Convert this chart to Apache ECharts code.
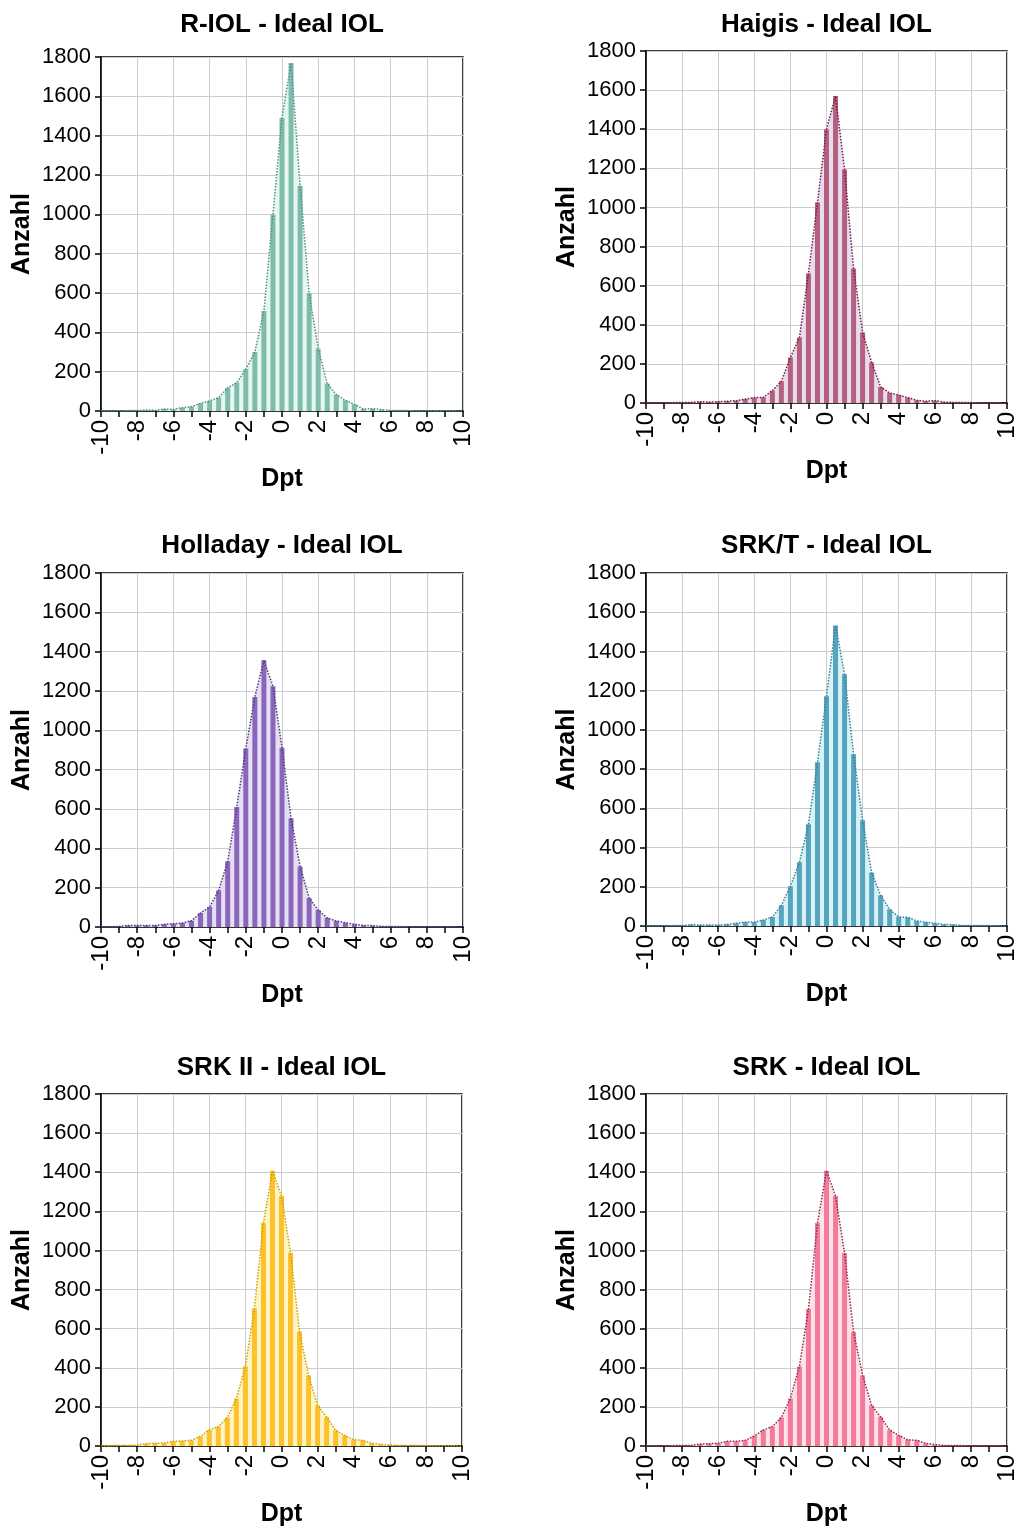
<!DOCTYPE html>
<html>
<head>
<meta charset="utf-8">
<script src="https://cdn.jsdelivr.net/npm/echarts@6/dist/echarts.min.js"></script>
<style>
  html, body { margin: 0; padding: 0; background: #fff; }
  #chart { width: 1019px; height: 1528px; }
</style>
</head>
<body>
<div id="chart"></div>
<script>
// Dpt-Klassen (Balkenmitten)
const dpt = [-10, -9.5, -9, -8.5, -8, -7.5, -7, -6.5, -6, -5.5, -5, -4.5, -4, -3.5, -3, -2.5, -2, -1.5, -1, -0.5,
  0, 0.5, 1, 1.5, 2, 2.5, 3, 3.5, 4, 4.5, 5, 5.5, 6, 6.5, 7, 7.5, 8, 8.5, 9, 9.5, 10];

// Anzahl je Klasse
const rIol = [1, 1, 1, 2, 2, 5, 3, 10, 8, 17, 22, 39, 51, 68, 118, 144, 213, 300, 508, 999,
  1490, 1769, 1145, 599, 317, 139, 83, 54, 34, 10, 12, 7, 3, 2, 2, 1, 1, 1, 1, 1, 0];
const haigis = [1, 1, 1, 2, 2, 3, 7, 5, 7, 9, 12, 20, 27, 29, 63, 111, 233, 335, 662, 1025,
  1400, 1570, 1194, 688, 361, 208, 82, 51, 41, 27, 14, 9, 12, 5, 3, 2, 2, 1, 1, 1, 0];
const holladay = [1, 1, 3, 8, 8, 8, 8, 14, 17, 20, 32, 71, 102, 186, 334, 610, 908, 1170, 1356, 1224,
  912, 553, 308, 147, 86, 46, 31, 22, 14, 8, 7, 3, 2, 2, 1, 1, 1, 1, 1, 1, 0];
const srkT = [1, 1, 1, 2, 2, 7, 5, 5, 5, 8, 14, 20, 20, 31, 46, 105, 202, 325, 519, 835,
  1171, 1532, 1284, 876, 539, 272, 156, 85, 46, 44, 26, 19, 14, 8, 7, 3, 2, 2, 2, 1, 0];
const srkII = [1, 2, 2, 3, 5, 12, 14, 15, 24, 26, 29, 49, 82, 99, 145, 242, 407, 703, 1140, 1407,
  1279, 988, 585, 361, 208, 148, 80, 54, 32, 29, 14, 8, 5, 3, 2, 2, 2, 1, 1, 1, 0];
const srk = [1, 1, 1, 2, 2, 3, 10, 12, 14, 24, 24, 29, 51, 82, 99, 146, 243, 407, 701, 1140,
  1407, 1279, 987, 583, 361, 208, 148, 82, 54, 32, 29, 14, 7, 3, 2, 2, 1, 1, 1, 1, 0];

const titles = ['R-IOL - Ideal IOL', 'Haigis - Ideal IOL', 'Holladay - Ideal IOL',
  'SRK/T - Ideal IOL', 'SRK II - Ideal IOL', 'SRK - Ideal IOL'];
const yTicks = [0, 200, 400, 600, 800, 1000, 1200, 1400, 1600, 1800];

const panels = [
  { data: rIol,     bar: '#7fbcae', line: '#4f8f84', area: '#e6f7ee' },
  { data: haigis,   bar: '#b5607f', line: '#7a1848', area: '#e7ddf0' },
  { data: holladay, bar: '#8a66bb', line: '#4a3a7a', area: '#e6def3' },
  { data: srkT,     bar: '#56a4bd', line: '#3a7d99', area: '#d8f3f7' },
  { data: srkII,    bar: '#fdc12c', line: '#c9a200', area: '#fff4c6' },
  { data: srk,      bar: '#f27a9a', line: '#8a2a4a', area: '#fde3e8' },
];

// Plotflächen
const grids = [
  { left: 101, top: 57, width: 362, height: 354 },
  { left: 646, top: 51, width: 361, height: 352 },
  { left: 101, top: 573, width: 362, height: 354 },
  { left: 646, top: 573, width: 361, height: 353 },
  { left: 101, top: 1094, width: 361, height: 353 },
  { left: 646, top: 1094, width: 361, height: 353 },
];
const titleTops = [7, 7, 528, 528, 1050, 1050];

const font = '"Liberation Sans", Arial, sans-serif';

const chart = echarts.init(document.getElementById('chart'));

const option = {
  animation: false,
  backgroundColor: '#fff',
  title: grids.map((g, i) => ({
    text: titles[i],
    left: g.left + g.width / 2 - 5,
    top: titleTops[i],
    textAlign: 'center',
    textStyle: { fontFamily: font, fontSize: 26, fontWeight: 'bold', color: '#000' },
  })),
  grid: grids.map(g => ({
    ...g,
    show: true,
    borderColor: '#000',
    borderWidth: 1.5,
    backgroundColor: 'transparent',
  })),
  xAxis: grids.map((g, i) => ({
    type: 'value',
    gridIndex: i,
    min: -10,
    max: 10,
    interval: 2,
    name: 'Dpt',
    nameLocation: 'middle',
    nameGap: 56,
    nameTextStyle: { fontFamily: font, fontSize: 25, fontWeight: 'bold', color: '#000', verticalAlign: 'top' },
    axisLine: { show: true, onZero: false, lineStyle: { color: '#000', width: 1.5 } },
    axisTick: { show: true, length: 6, lineStyle: { color: '#000', width: 1.5 } },
    minorTick: { show: true, splitNumber: 2, length: 6, lineStyle: { color: '#000', width: 1.5 } },
    axisLabel: {
      rotate: 90,
      margin: 9,
      fontFamily: font,
      fontSize: 24,
      color: '#000',
      showMinLabel: true,
      showMaxLabel: true,
    },
    splitLine: { show: true, lineStyle: { color: '#cccccc', width: 1 } },
  })),
  yAxis: grids.map((g, i) => ({
    type: 'value',
    gridIndex: i,
    min: yTicks[0],
    max: yTicks[yTicks.length - 1],
    interval: yTicks[1] - yTicks[0],
    name: 'Anzahl',
    nameLocation: 'middle',
    nameGap: 66,
    nameTextStyle: { fontFamily: font, fontSize: 25, fontWeight: 'bold', color: '#000' },
    axisLine: { show: true, onZero: false, lineStyle: { color: '#000', width: 1.5 } },
    axisTick: { show: true, length: 6, lineStyle: { color: '#000', width: 1.5 } },
    axisLabel: { margin: 10, fontFamily: font, fontSize: 22, color: '#000', formatter: v => String(v) },
    splitLine: { show: true, lineStyle: { color: '#cccccc', width: 1 } },
  })),
  series: panels.flatMap((p, i) => {
    const pts = dpt.map((x, k) => [x, p.data[k]]);
    return [
      {
        type: 'line',
        xAxisIndex: i,
        yAxisIndex: i,
        data: pts,
        symbol: 'none',
        lineStyle: { width: 0 },
        areaStyle: { color: p.area, opacity: 1 },
        z: 1,
        silent: true,
      },
      {
        type: 'bar',
        xAxisIndex: i,
        yAxisIndex: i,
        data: pts,
        barWidth: 5,
        itemStyle: { color: p.bar },
        z: 2,
      },
      {
        type: 'line',
        xAxisIndex: i,
        yAxisIndex: i,
        data: pts,
        symbol: 'none',
        lineStyle: { color: p.line, width: 1.5, type: 'dotted' },
        z: 3,
        silent: true,
      },
    ];
  }),
};

chart.setOption(option);
</script>
</body>
</html>
